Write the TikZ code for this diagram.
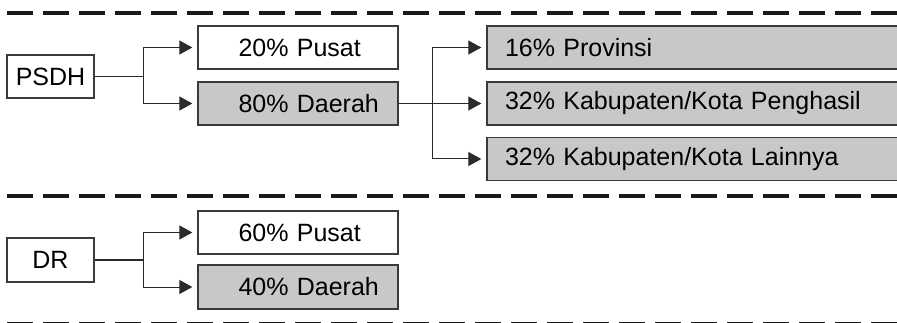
\documentclass[tikz,border=0pt]{standalone}
\usepackage{fontspec}
\setmainfont{Liberation Sans}
\usetikzlibrary{arrows.meta}
\definecolor{boxline}{HTML}{3A3A3A}
\definecolor{boxfill}{HTML}{C8C8C8}
\definecolor{linkline}{HTML}{2A2A2A}
\begin{document}
\begin{tikzpicture}[x=1pt,y=-1pt,
  every node/.style={font=\fontsize{25}{29}\selectfont, text=black},
  plainbox/.style={draw=boxline, line width=1.3pt, fill=white, inner sep=0pt},
  greybox/.style={plainbox, fill=boxfill},
  link/.style={draw=linkline, line width=1pt},
  arr/.style={link, -{Triangle[length=13pt,width=14pt]}},
  sep/.style={draw=black!90, line width=4pt, dash pattern=on 26pt off 10pt}]
\useasboundingbox (0,0) rectangle (897,323);

% section separators
\draw[sep] (7,13) -- (897,13);
\draw[sep] (7,196) -- (897,196);
\draw[sep] (7,324) -- (897,324);

% PSDH split
\node[plainbox, minimum width=87pt, minimum height=43pt] (psdh) at (50.5,76.5) {PSDH};
\node[plainbox, minimum width=200pt, minimum height=43pt, text width=173pt, align=left] (pusat1) at (298,47.5) {\hspace*{27pt}20\% Pusat};
\node[greybox, minimum width=200pt, minimum height=43pt, text width=173pt, align=left] (daerah1) at (298,103.5) {\hspace*{27pt}80\% Daerah};

% regional split
\node[greybox, minimum width=420pt, minimum height=43pt, text width=420pt, align=left] (prov) at (697,47.5) {\hspace*{18pt}16\% Provinsi};
\node[greybox, minimum width=420pt, minimum height=43pt, text width=420pt, align=left] (kph) at (697,103.5) {\hspace*{18pt}32\% Kabupaten/Kota Penghasil};
\node[greybox, minimum width=420pt, minimum height=43pt, text width=420pt, align=left] (kl) at (697,159) {\hspace*{18pt}32\% Kabupaten/Kota Lainnya};

% DR split
\node[plainbox, minimum width=87pt, minimum height=44pt] (dr) at (50.5,260) {DR};
\node[plainbox, minimum width=200pt, minimum height=43pt, text width=173pt, align=left] (pusat2) at (298,232.5) {\hspace*{27pt}60\% Pusat};
\node[greybox, minimum width=200pt, minimum height=44pt, text width=173pt, align=left] (daerah2) at (298,287) {\hspace*{27pt}40\% Daerah};

% connectors
\coordinate (j1) at (143,0);
\coordinate (j2) at (432,0);
\draw[link] (psdh.east) -- (psdh.east -| j1);
\draw[arr] (psdh.east -| j1) |- ([xshift=-5pt]pusat1.west);
\draw[arr] (psdh.east -| j1) |- ([xshift=-5pt]daerah1.west);
\draw[arr] (daerah1.east) -- ([xshift=-5pt]kph.west);
\draw[arr] (daerah1.east -| j2) |- ([xshift=-5pt]prov.west);
\draw[arr] (daerah1.east -| j2) |- ([xshift=-5pt]kl.west);
\draw[link] (dr.east) -- (dr.east -| j1);
\draw[arr] (dr.east -| j1) |- ([xshift=-5pt]pusat2.west);
\draw[arr] (dr.east -| j1) |- ([xshift=-5pt]daerah2.west);
\end{tikzpicture}
\end{document}
